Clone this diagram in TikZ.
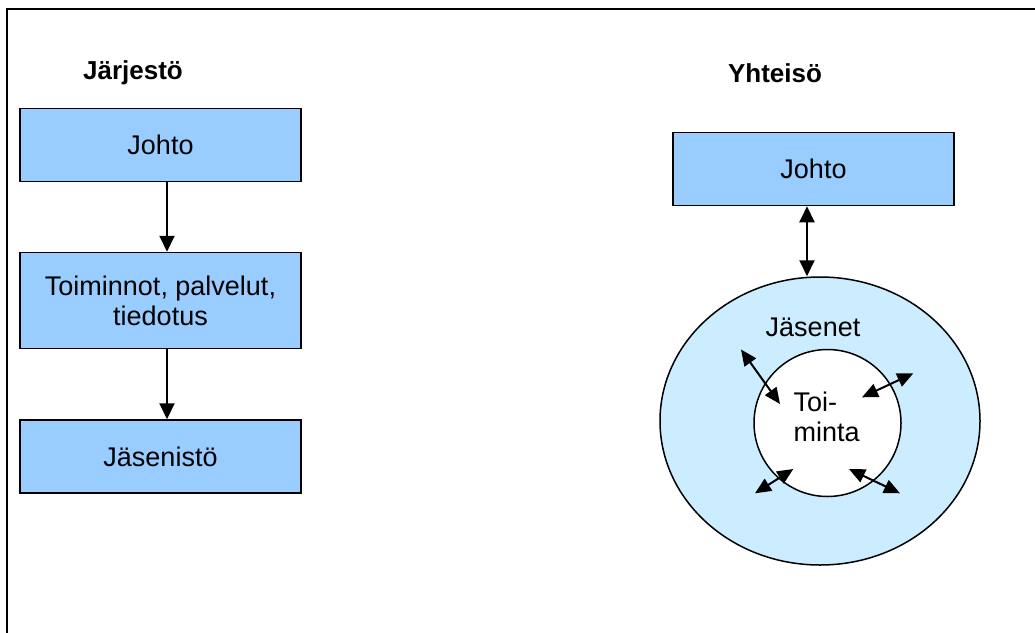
\documentclass[tikz,border=0pt]{standalone}
\usepackage{fontspec}
\setmainfont{Liberation Sans}
\usetikzlibrary{arrows.meta,shapes.geometric}
\definecolor{boxblue}{HTML}{99CCFF}
\definecolor{ringblue}{HTML}{CCECFF}
\tikzset{
  box/.style={draw=black, line width=1.5pt, fill=boxblue, rectangle, minimum width=281pt, minimum height=73pt, inner sep=0pt, align=center, font=\fontsize{27}{30}\selectfont},
  title/.style={font=\fontsize{26}{30}\selectfont\bfseries},
  lbl/.style={font=\fontsize{27}{30}\selectfont},
  arr/.style={-{Triangle[length=16pt,width=15pt]}, line width=2pt},
  darr/.style={{Triangle[length=16pt,width=15pt]}-{Triangle[length=16pt,width=15pt]}, line width=2pt},
  sarr/.style={{Triangle[length=16pt,width=14pt]}-{Triangle[length=16pt,width=14pt]}, line width=2pt},
}
\begin{document}
\begin{tikzpicture}[x=1pt,y=-1pt]
\useasboundingbox (0,0) rectangle (1035,632);
% frame
\draw[line width=2pt] (6.5,640) -- (6.5,8.5) -- (1045,8.5);

% left column
\node[title] (t1) at (133,73) {Järjestö};
\node[box] (j1) at (160.5,145) {Johto};
\node[box, minimum height=96pt] (tp) at (160.5,300.5) {Toiminnot, palvelut,\\tiedotus};
\node[box] (jn) at (160.5,456.5) {Jäsenistö};
\coordinate (lx) at (167,0);
\draw[arr] (j1.south -| lx) -- (tp.north -| lx);
\draw[arr] (tp.south -| lx) -- (jn.north -| lx);

% right column
\node[title] (t2) at (775,73) {Yhteisö};
\node[box] (j2) at (813.5,169) {Johto};
\node[draw=black, line width=1.5pt, fill=ringblue, ellipse, inner sep=0pt, minimum width=320pt, minimum height=288pt] (outer) at (820,421) {};
\node[draw=black, line width=1.5pt, fill=white, circle, inner sep=0pt, minimum size=147pt] (inner) at (827.5,423) {};
\coordinate (rx) at (807,0);
\draw[darr] (j2.south -| rx) -- (outer.north -| rx);
\node[lbl] (jas) at (813,327) {Jäsenet};
\node[lbl, align=left, anchor=west] (toi) at (790,417) {Toi-\\minta};

% small double arrows
\coordinate (a1) at (741,349.5);   \coordinate (b1) at (780,404);
\coordinate (a2) at (913.3,373.3); \coordinate (b2) at (862,397.3);
\coordinate (a3) at (755,493.3);   \coordinate (b3) at (793.3,469);
\coordinate (a4) at (900,493.3);   \coordinate (b4) at (849,469);
\draw[sarr] (a1) -- (b1);
\draw[sarr] (a2) -- (b2);
\draw[sarr] (a3) -- (b3);
\draw[sarr] (a4) -- (b4);
\end{tikzpicture}
\end{document}
